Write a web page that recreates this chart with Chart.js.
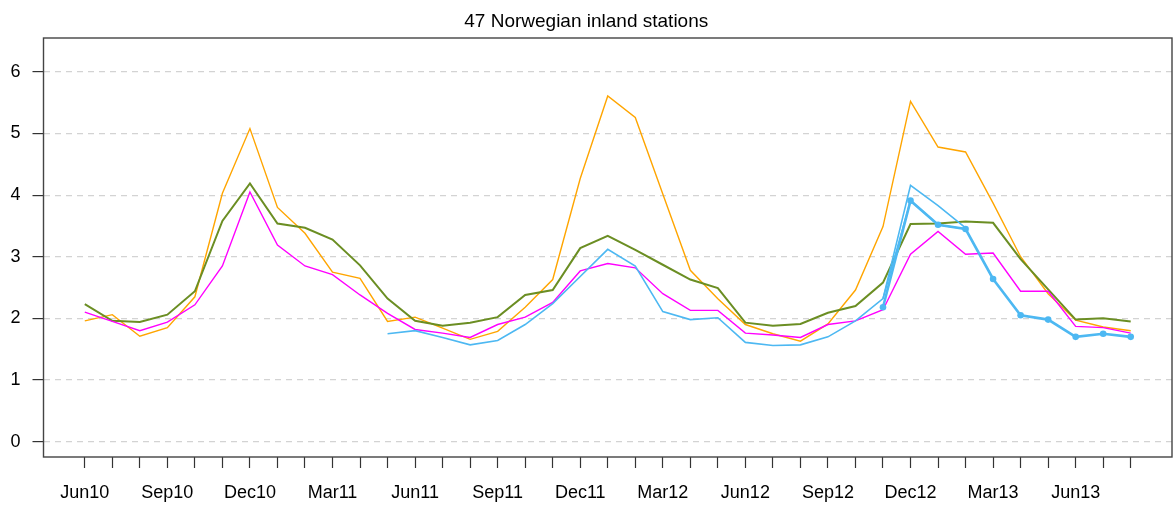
<!DOCTYPE html>
<html>
<head>
<meta charset="utf-8">
<script src="https://cdn.jsdelivr.net/npm/chart.js@4"></script>
<style>
	html, body { margin: 0; padding: 0; background: #fff; }
	#wrap { width: 1176px; height: 505px; }
</style>
</head>
<body>
<div id="wrap"><canvas id="stationChart"></canvas></div>
<script>
// Months Jun10 .. Aug13, one value per month (null = no data)
const months = [
	'Jun10', 'Jul10', 'Aug10', 'Sep10', 'Oct10', 'Nov10', 'Dec10', 'Jan11', 'Feb11', 'Mar11',
	'Apr11', 'May11', 'Jun11', 'Jul11', 'Aug11', 'Sep11', 'Oct11', 'Nov11', 'Dec11', 'Jan12',
	'Feb12', 'Mar12', 'Apr12', 'May12', 'Jun12', 'Jul12', 'Aug12', 'Sep12', 'Oct12', 'Nov12',
	'Dec12', 'Jan13', 'Feb13', 'Mar13', 'Apr13', 'May13', 'Jun13', 'Jul13', 'Aug13'
];

const orangeSeries = [
	1.96, 2.06, 1.71, 1.85, 2.35, 4.03, 5.08, 3.80, 3.38, 2.75,
	2.65, 1.95, 2.02, 1.84, 1.66, 1.79, 2.18, 2.63, 4.27, 5.61,
	5.26, 4.02, 2.78, 2.32, 1.90, 1.75, 1.63, 1.91, 2.46, 3.49,
	5.52, 4.78, 4.70, 3.87, 3.00, 2.40, 1.97, 1.86, 1.80
];

const greenSeries = [
	2.23, 1.96, 1.94, 2.06, 2.44, 3.58, 4.19, 3.54, 3.47, 3.28,
	2.86, 2.32, 1.96, 1.88, 1.93, 2.02, 2.38, 2.46, 3.14, 3.34,
	3.11, 2.87, 2.63, 2.49, 1.93, 1.88, 1.91, 2.09, 2.20, 2.58,
	3.53, 3.54, 3.57, 3.55, 2.96, 2.47, 1.98, 2.00, 1.95
];

const magentaSeries = [
	2.10, 1.95, 1.80, 1.94, 2.22, 2.85, 4.05, 3.19, 2.85, 2.71,
	2.38, 2.08, 1.82, 1.76, 1.69, 1.90, 2.02, 2.26, 2.77, 2.89,
	2.82, 2.40, 2.13, 2.13, 1.76, 1.73, 1.69, 1.90, 1.96, 2.14,
	3.04, 3.41, 3.04, 3.06, 2.44, 2.44, 1.87, 1.85, 1.76
];

const blueSeries = [
	null, null, null, null, null, null, null, null, null, null,
	null, 1.75, 1.80, 1.69, 1.57, 1.64, 1.90, 2.24, 2.68, 3.12,
	2.85, 2.11, 1.98, 2.01, 1.61, 1.56, 1.57, 1.70, 1.96, 2.32,
	4.16, 3.83, 3.47, null, null, null, null, null, null
];

const blueLinkSeries = [
	null, null, null, null, null, null, null, null, null, null,
	null, null, null, null, null, null, null, null, null, null,
	null, null, null, null, null, null, null, null, null, 2.32,
	3.91, 3.52, 3.45, null, null, null, null, null, null
];

const bluePointSeries = [
	null, null, null, null, null, null, null, null, null, null,
	null, null, null, null, null, null, null, null, null, null,
	null, null, null, null, null, null, null, null, null, 2.18,
	3.91, 3.52, 3.45, 2.64, 2.05, 1.98, 1.70, 1.75, 1.70
];

const yTicks = [0, 1, 2, 3, 4, 5, 6];

const BLUE = '#4db8f2';

// turn a monthly array into {x, y} points, dropping the gaps
const toPoints = (values) => values
	.map((v, i) => ({ x: i, y: v }))
	.filter(p => p.y !== null);

// R-style box round the plot region
const frameBox = {
	id: 'frameBox',
	afterDraw(chart) {
		const { ctx, chartArea: a } = chart;
		ctx.save();
		ctx.strokeStyle = '#444';
		ctx.lineWidth = 1.4;
		ctx.strokeRect(a.left, a.top, a.right - a.left, a.bottom - a.top);
		ctx.restore();
	}
};

const FONT = "'Liberation Sans', Arial, Helvetica, sans-serif";

new Chart(document.getElementById('stationChart'), {
	type: 'line',
	data: {
		datasets: [
			{
				data: toPoints(bluePointSeries),
				borderColor: BLUE,
				backgroundColor: BLUE,
				borderWidth: 2.6,
				pointRadius: 3.3,
				pointBorderWidth: 0
			},
			{
				data: toPoints(blueLinkSeries),
				borderColor: BLUE,
				borderWidth: 1.6,
				pointRadius: 0
			},
			{
				data: toPoints(blueSeries),
				borderColor: BLUE,
				borderWidth: 1.6,
				pointRadius: 0
			},
			{
				data: toPoints(magentaSeries),
				borderColor: '#ff00ff',
				borderWidth: 1.4,
				pointRadius: 0
			},
			{
				data: toPoints(greenSeries),
				borderColor: '#6b8e23',
				borderWidth: 2,
				pointRadius: 0
			},
			{
				data: toPoints(orangeSeries),
				borderColor: '#ffa500',
				borderWidth: 1.4,
				pointRadius: 0
			}
		]
	},
	options: {
		responsive: true,
		maintainAspectRatio: false,
		animation: false,
		layout: { padding: { left: 0, right: 3.5, top: 0, bottom: 0 } },
		plugins: {
			legend: { display: false },
			tooltip: { enabled: false },
			title: {
				display: true,
				text: '47 Norwegian inland stations',
				color: '#000',
				font: { family: FONT, size: 19, weight: 'normal', lineHeight: 1.2 },
				padding: { top: 10.4, bottom: 4.8 }
			}
		},
		scales: {
			x: {
				type: 'linear',
				min: -1.5,
				max: 39.5,
				// one tick per month, label every third
				afterBuildTicks: (scale) => {
					scale.ticks = months.map((m, i) => ({ value: i }));
				},
				afterFit: (scale) => { scale.height = 48; },
				ticks: {
					autoSkip: false,
					maxRotation: 0,
					padding: 14,
					color: '#000',
					font: { family: FONT, size: 18 },
					callback: (value) => (value % 3 === 0 ? months[value] : '')
				},
				grid: {
					drawOnChartArea: false,
					drawTicks: true,
					tickLength: 11,
					tickColor: '#333',
					tickWidth: 1.2
				},
				border: { display: false }
			},
			y: {
				min: -0.25,
				max: 6.55,
				afterBuildTicks: (scale) => {
					scale.ticks = yTicks.map(v => ({ value: v }));
				},
				afterFit: (scale) => { scale.width = 43.5; },
				ticks: {
					padding: 12,
					color: '#000',
					font: { family: FONT, size: 18 },
					callback: (value) => String(value)
				},
				grid: {
					color: '#d3d3d3',
					lineWidth: 1.2,
					drawTicks: true,
					tickLength: 11,
					tickColor: '#333',
					tickWidth: 1.2
				},
				border: { display: false, dash: [6, 5] }
			}
		}
	},
	plugins: [frameBox]
});
</script>
</body>
</html>
